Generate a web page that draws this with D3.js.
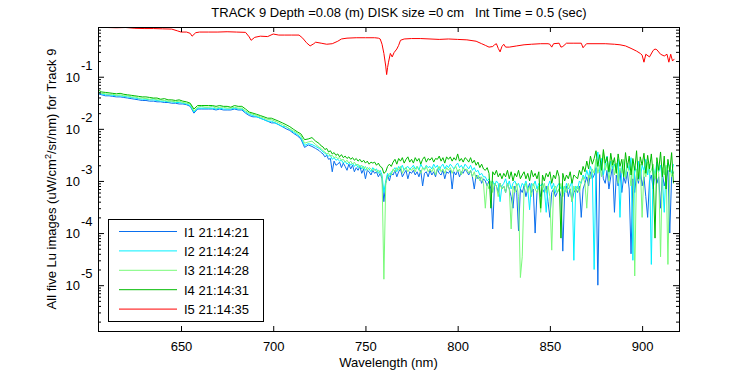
<!DOCTYPE html>
<html>
<head>
<meta charset="utf-8">
<script src="https://cdn.jsdelivr.net/npm/d3@7"></script>
<style>
    body { margin: 0; background: #fff; }
    text { font-family: "Liberation Sans", Arial, sans-serif; font-size: 13px; fill: #000; }
</style>
</head>
<body>
<div id="chart"></div>
<script>
const width = 750,
    height = 375,
    margin = { top: 27, right: 71, bottom: 44, left: 98 };

// wavelength grid (nm) shared by images I1..I4: 2 nm steps up to 723, then 1 nm
const wavelength = d3.range(605, 725, 2).concat(d3.range(725, 918, 1));

// I1 21:14:21
const luI1 = [
    .047, .045, .043, .043, .042, .041, .041, .040, .039, .038,
    .037, .036, .035, .035, .034, .034, .033, .033, .032, .032,
    .031, .031, .030, .030, .029, .027, .020, .024, .024, .024,
    .024, .024, .023, .024, .023, .023, .023, .024, .023, .023,
    .020, .018, .017, .017, .016, .015, .014, .013, .013, .012,
    .011, .010, .0093, .0082, .0074, .0064, .0044, .0049, .0046, .0042,
    // 725..917 nm, 1 nm steps
    38e-4, 35e-4, 33e-4, 29e-4, 31e-4, 26e-4, 27e-4, 15e-4, 24e-4, 20e-4,
    21e-4, 23e-4, 18e-4, 22e-4, 19e-4, 16e-4, 21e-4, 17e-4, 20e-4, 15e-4,
    18e-4, 16e-4, 19e-4, 14e-4, 17e-4, 11e-4, 16e-4, 15e-4, 13e-4, 16e-4,
    14e-4, 15e-4, 12e-4, 14e-4, 11e-4, 4e-4, 9e-4, 13e-4, 10e-4, 14e-4,
    13e-4, 16e-4, 12e-4, 15e-4, 17e-4, 12e-4, 14e-4, 16e-4, 11e-4, 15e-4,
    14e-4, 16e-4, 13e-4, 15e-4, 12e-4, 16e-4, 8e-4, 14e-4, 15e-4, 12e-4,
    16e-4, 13e-4, 15e-4, 12e-4, 17e-4, 14e-4, 13e-4, 16e-4, 11e-4, 15e-4,
    14e-4, 16e-4, 7e-4, 15e-4, 13e-4, 16e-4, 12e-4, 15e-4, 14e-4, 17e-4,
    15e-4, 13e-4, 16e-4, 12e-4, 7e-4, 13e-4, 11e-4, 12e-4, 9e-4, 11e-4,
    10e-4, 8e-4, 10e-4, 7e-4, 1.2e-4, 9e-4, 8e-4, 6e-4, 9e-4, 7e-4,
    8e-4, 6e-4, 9e-4, 7e-4, 5e-4, 3e-4, 8e-4, 6e-4, 1.1e-4, 7e-4,
    6e-4, 8e-4, 5e-4, 7e-4, 9e-4, 6e-4, 7e-4, 1.0e-4, 6e-4, 8e-4,
    5e-4, 7e-4, 6e-4, 8e-4, 4e-4, 2e-4, 6e-4, 7e-4, 5e-4, 6e-4,
    7e-4, 5e-4, 4.5e-5, 6e-4, 8e-4, 5e-4, 7e-4, 4e-4, 6e-4, 7e-4,
    6e-4, 8e-4, 2e-4, 7e-4, 9e-4, 12e-4, 8e-4, 15e-4, 11e-4, 13e-4,
    18e-4, 1.0e-5, 14e-4, 24e-4, 11e-4, 9e-4, 16e-4, 7e-4, 12e-4, 19e-4,
    2.5e-4, 13e-4, 8e-4, 16e-4, 6e-4, 12e-4, 9e-4, 15e-4, 7e-4, 4e-5,
    11e-4, 6e-4, 14e-4, 9e-4, 17e-4, 8e-4, 12e-4, 5e-4, 2e-4, 10e-4,
    13e-4, 7e-4, 15e-4, 9e-4, 12e-4, 3e-4, 14e-4, 8e-4, 11e-4, 16e-4,
    1.0e-4, 12e-4, 15e-4
];

// I2 21:14:24
const luI2 = [
    .049, .047, .045, .045, .044, .043, .043, .042, .041, .040,
    .039, .038, .037, .037, .036, .036, .035, .034, .034, .033,
    .033, .032, .032, .031, .030, .028, .021, .025, .025, .025,
    .025, .025, .024, .025, .024, .024, .024, .025, .024, .024,
    .021, .019, .018, .017, .016, .015, .014, .014, .013, .012,
    .011, .011, .0097, .0086, .0078, .0068, .0048, .0052, .0050, .0046,
    42e-4, 39e-4, 36e-4, 34e-4, 32e-4, 30e-4, 31e-4, 26e-4, 28e-4, 25e-4,
    26e-4, 24e-4, 25e-4, 22e-4, 24e-4, 21e-4, 23e-4, 20e-4, 22e-4, 19e-4,
    21e-4, 18e-4, 20e-4, 17e-4, 19e-4, 16e-4, 18e-4, 17e-4, 15e-4, 18e-4,
    16e-4, 17e-4, 14e-4, 16e-4, 13e-4, 6e-4, 10e-4, 14e-4, 12e-4, 15e-4,
    16e-4, 18e-4, 15e-4, 19e-4, 17e-4, 20e-4, 16e-4, 18e-4, 19e-4, 17e-4,
    18e-4, 20e-4, 17e-4, 19e-4, 16e-4, 21e-4, 18e-4, 17e-4, 20e-4, 18e-4,
    19e-4, 17e-4, 21e-4, 18e-4, 20e-4, 16e-4, 19e-4, 21e-4, 17e-4, 20e-4,
    18e-4, 21e-4, 19e-4, 17e-4, 20e-4, 22e-4, 18e-4, 20e-4, 17e-4, 21e-4,
    19e-4, 17e-4, 20e-4, 16e-4, 18e-4, 15e-4, 16e-4, 13e-4, 14e-4, 12e-4,
    12e-4, 10e-4, 11e-4, 9e-4, 10e-4, 8e-4, 10e-4, 9e-4, 4e-4, 8e-4,
    9e-4, 11e-4, 8e-4, 10e-4, 7e-4, 9e-4, 10e-4, 8e-4, 9e-4, 7e-4,
    9e-4, 8e-4, 10e-4, 7e-4, 2.8e-4, 9e-4, 8e-4, 10e-4, 7e-4, 9e-4,
    8e-4, 9e-4, 7e-4, 2.5e-4, 8e-4, 10e-4, 7e-4, 9e-4, 6e-4, 8e-4,
    9e-4, 7e-4, 8e-4, 6e-4, 9e-4, 7e-4, 8e-4, 10e-4, 3e-5, 8e-4,
    7e-4, 10e-4, 9e-4, 13e-4, 11e-4, 16e-4, 12e-4, 19e-4, 14e-4, 2e-5,
    22e-4, 36e-4, 15e-4, 27e-4, 13e-4, 20e-4, 30e-4, 14e-4, 24e-4, 17e-4,
    21e-4, 15e-4, 26e-4, 2e-4, 18e-4, 25e-4, 12e-4, 22e-4, 16e-4, 28e-4,
    3e-5, 19e-4, 14e-4, 24e-4, 11e-4, 20e-4, 16e-4, 26e-4, 13e-4, 21e-4,
    2.5e-5, 18e-4, 13e-4, 23e-4, 15e-4, 20e-4, 11e-4, 2.5e-4, 17e-4, 22e-4,
    19e-4, 14e-4, 21e-4
];

// I3 21:14:28
const luI3 = [
    .051, .048, .047, .046, .046, .044, .045, .043, .043, .041,
    .041, .039, .039, .038, .037, .038, .036, .036, .035, .034,
    .034, .033, .034, .032, .031, .030, .022, .026, .027, .026,
    .026, .027, .025, .026, .026, .025, .025, .026, .025, .025,
    .022, .020, .019, .018, .017, .016, .015, .015, .014, .013,
    .012, .011, .010, .0091, .0083, .0074, .0053, .0056, .0058, .0050,
    44e-4, 42e-4, 38e-4, 36e-4, 33e-4, 34e-4, 30e-4, 31e-4, 28e-4, 29e-4,
    27e-4, 28e-4, 25e-4, 26e-4, 23e-4, 25e-4, 22e-4, 24e-4, 21e-4, 23e-4,
    20e-4, 21e-4, 18e-4, 20e-4, 17e-4, 19e-4, 16e-4, 18e-4, 17e-4, 16e-4,
    17e-4, 15e-4, 16e-4, 14e-4, 12e-4, 1.3e-5, 9e-4, 12e-4, 14e-4, 13e-4,
    17e-4, 15e-4, 18e-4, 16e-4, 19e-4, 14e-4, 17e-4, 18e-4, 15e-4, 17e-4,
    16e-4, 18e-4, 15e-4, 19e-4, 17e-4, 14e-4, 18e-4, 16e-4, 19e-4, 15e-4,
    17e-4, 15e-4, 18e-4, 13e-4, 17e-4, 19e-4, 15e-4, 17e-4, 14e-4, 18e-4,
    16e-4, 18e-4, 14e-4, 17e-4, 19e-4, 15e-4, 17e-4, 13e-4, 18e-4, 16e-4,
    17e-4, 14e-4, 16e-4, 12e-4, 15e-4, 11e-4, 13e-4, 10e-4, 12e-4, 9e-4,
    3e-4, 9e-4, 7e-4, 10e-4, 6e-4, 9e-4, 8e-4, 5e-4, 9e-4, 7e-4,
    8e-4, 6e-4, 9e-4, 7e-4, 1.2e-4, 8e-4, 6e-4, 9e-4, 5e-4, 1.4e-5,
    3.5e-5, 7e-4, 9e-4, 6e-4, 8e-4, 5e-4, 9e-4, 7e-4, 6e-4, 8e-4,
    2.5e-4, 7e-4, 9e-4, 6e-4, 8e-4, 5e-4, 4.7e-5, 7e-4, 8e-4, 6e-4,
    7e-4, 9e-4, 5e-4, 8e-4, 6e-4, 9e-4, 7e-4, 4e-4, 8e-4, 6e-4,
    8e-4, 6e-4, 10e-4, 12e-4, 9e-4, 3e-4, 13e-4, 11e-4, 17e-4, 14e-4,
    26e-4, 14e-4, 20e-4, 12e-4, 35e-4, 16e-4, 22e-4, 10e-4, 18e-4, 25e-4,
    13e-4, 22e-4, 9e-4, 18e-4, 14e-4, 26e-4, 11e-4, 20e-4, 15e-4, 8e-4,
    25e-4, 1.5e-5, 17e-4, 10e-4, 21e-4, 2e-4, 16e-4, 12e-4, 23e-4, 14e-4,
    16e-4, 21e-4, 11e-4, 19e-4, 14e-4, 3.5e-5, 18e-4, 13e-4, 20e-4, 2.5e-5,
    19e-4, 12e-4, 15e-4
];

// I4 21:14:31
const luI4 = [
    .056, .051, .050, .049, .048, .047, .048, .046, .045, .044,
    .043, .042, .041, .041, .040, .039, .039, .037, .038, .036,
    .036, .035, .036, .034, .033, .031, .024, .028, .028, .028,
    .028, .028, .027, .028, .027, .027, .026, .028, .027, .027,
    .024, .021, .020, .019, .018, .017, .016, .016, .015, .014,
    .013, .012, .011, .0098, .0088, .0080, .0062, .0064, .0068, .0058,
    52e-4, 47e-4, 45e-4, 40e-4, 42e-4, 36e-4, 38e-4, 33e-4, 35e-4, 31e-4,
    33e-4, 29e-4, 32e-4, 28e-4, 30e-4, 27e-4, 29e-4, 26e-4, 28e-4, 25e-4,
    27e-4, 24e-4, 26e-4, 23e-4, 25e-4, 22e-4, 24e-4, 21e-4, 23e-4, 22e-4,
    23e-4, 20e-4, 22e-4, 19e-4, 18e-4, 14e-4, 15e-4, 19e-4, 21e-4, 19e-4,
    23e-4, 26e-4, 21e-4, 27e-4, 24e-4, 28e-4, 22e-4, 26e-4, 29e-4, 23e-4,
    26e-4, 22e-4, 28e-4, 24e-4, 27e-4, 21e-4, 26e-4, 29e-4, 23e-4, 27e-4,
    25e-4, 28e-4, 23e-4, 27e-4, 26e-4, 30e-4, 24e-4, 28e-4, 22e-4, 29e-4,
    26e-4, 29e-4, 24e-4, 28e-4, 25e-4, 33e-4, 24e-4, 27e-4, 23e-4, 28e-4,
    26e-4, 23e-4, 28e-4, 22e-4, 25e-4, 20e-4, 23e-4, 18e-4, 21e-4, 17e-4,
    16e-4, 18e-4, 14e-4, 3e-4, 15e-4, 13e-4, 16e-4, 12e-4, 14e-4, 11e-4,
    14e-4, 12e-4, 16e-4, 11e-4, 15e-4, 10e-4, 14e-4, 12e-4, 16e-4, 11e-4,
    13e-4, 15e-4, 11e-4, 14e-4, 10e-4, 16e-4, 12e-4, 14e-4, 11e-4, 15e-4,
    3e-4, 13e-4, 10e-4, 14e-4, 12e-4, 15e-4, 9e-4, 13e-4, 11e-4, 16e-4,
    12e-4, 8e-5, 14e-4, 10e-4, 13e-4, 11e-4, 15e-4, 9e-4, 13e-4, 12e-4,
    11e-4, 16e-4, 13e-4, 19e-4, 15e-4, 24e-4, 17e-4, 30e-4, 21e-4, 27e-4,
    38e-4, 19e-4, 32e-4, 16e-4, 40e-4, 22e-4, 29e-4, 15e-4, 34e-4, 20e-4,
    28e-4, 14e-4, 33e-4, 19e-4, 26e-4, 12e-4, 35e-4, 18e-4, 30e-4, 13e-4,
    27e-4, 16e-4, 38e-4, 11e-4, 29e-4, 20e-4, 34e-4, 14e-4, 31e-4, 17e-4,
    33e-4, 13e-4, 8e-5, 28e-4, 16e-4, 36e-4, 12e-4, 30e-4, 7e-4, 26e-4,
    15e-4, 35e-4, 9e-4
];

// I5 21:14:35 has its own (irregular) wavelength samples
const wavelengthI5 = [
    605, 610, 615, 620, 625, 630, 635, 640, 645, 648,
    650, 653, 655, 656, 658, 660, 665, 670, 675, 680,
    685, 687, 688, 690, 693, 697, 700, 703, 706, 710,
    714, 716, 718, 720, 722, 723, 726, 729, 732, 735,
    737, 740, 745, 750, 755, 757, 758, 759, 760, 761,
    761.5, 762, 762.5, 763.5, 764.5, 765.5, 767, 768, 769, 771,
    775, 780, 785, 790, 795, 800, 805, 810, 813, 815,
    817, 819, 820, 821, 822, 823, 824, 825, 826, 828,
    832, 836, 840, 845, 849, 850, 851, 852, 855, 856,
    857, 859, 863, 867, 868, 869, 870, 875, 880, 885,
    888, 891, 894, 897, 899, 900, 901, 902, 904, 906,
    907, 908, 910, 912, 913.5, 914.5, 915.5, 916.5, 917.5
];
const luI5 = [
    .88, .88, .87, .88, .85, .84, .84, .83, .82, .76,
    .72, .72, .68, .60, .70, .72, .72, .72, .73, .72,
    .71, .58, .50, .57, .60, .59, .66, .63, .63, .63,
    .63, .55, .45, .39, .43, .46, .44, .42, .43, .48,
    .53, .55, .56, .56, .56, .55, .53, .42, .28, .16,
    .11, .15, .19, .28, .24, .29, .34, .40, .50, .53,
    .54, .54, .53, .52, .53, .52, .51, .48, .43, .40,
    .37, .38, .41, .43, .35, .30, .38, .42, .37, .37,
    .39, .41, .42, .43, .43, .42, .37, .43, .44, .37,
    .38, .44, .44, .44, .36, .40, .43, .43, .43, .42,
    .41, .39, .35, .31, .28, .26, .19, .27, .24, .32,
    .34, .33, .27, .25, .27, .19, .27, .20, .22
];

const seriesNames = ["I1 21:14:21", "I2 21:14:24", "I3 21:14:28", "I4 21:14:31", "I5 21:14:35"];
const seriesColors = ["#0a6fee", "#00f0ff", "#78fa78", "#00bb00", "#ff0000"];
const xTicks = [650, 700, 750, 800, 850, 900];
const yMajor = [1e-1, 1e-2, 1e-3, 1e-4, 1e-5];

const series = [
    { name: seriesNames[0], wl: wavelength, lu: luI1 },
    { name: seriesNames[1], wl: wavelength, lu: luI2 },
    { name: seriesNames[2], wl: wavelength, lu: luI3 },
    { name: seriesNames[3], wl: wavelength, lu: luI4 },
    { name: seriesNames[4], wl: wavelengthI5, lu: luI5 }
].map((s, i) => ({
    name: s.name,
    color: seriesColors[i],
    points: s.lu.map((v, j) => ({ wl: s.wl[j], lu: v })).filter(d => d.wl !== undefined)
}));

const x = d3.scaleLinear()
    .domain([605, 920])
    .range([margin.left, width - margin.right]);
const y = d3.scaleLog()
    .domain([1.32e-6, 0.9])
    .range([height - margin.bottom, margin.top]);

// minor ticks 2..9 per decade
const yMinor = [];
for (let e = -6; e <= -1; e++) {
    for (let k = 2; k <= 9; k++) {
        const v = k * Math.pow(10, e);
        if (v >= y.domain()[0] && v <= y.domain()[1]) yMinor.push(v);
    }
}

const svg = d3.select("#chart")
    .append("svg")
    .attr("width", width)
    .attr("height", height);

svg.append("rect")
    .attr("width", width)
    .attr("height", height)
    .attr("fill", "#fff");

// data lines
const line = d3.line()
    .x(d => x(d.wl))
    .y(d => y(d.lu));

svg.append("clipPath")
    .attr("id", "plot-clip")
    .append("rect")
    .attr("x", margin.left)
    .attr("y", margin.top)
    .attr("width", width - margin.left - margin.right)
    .attr("height", height - margin.top - margin.bottom);

svg.append("g")
    .attr("clip-path", "url(#plot-clip)")
    .selectAll("path.line")
    .data(series)
    .join("path")
    .attr("class", "line")
    .attr("fill", "none")
    .attr("stroke", d => d.color)
    .attr("stroke-width", 1)
    .attr("d", d => line(d.points));

// axes, ticks inward on all four sides
const bottom = height - margin.bottom,
    right = width - margin.right;

svg.append("g")
    .attr("transform", `translate(0, ${bottom})`)
    .call(d3.axisBottom(x).tickValues(xTicks).tickSize(-5).tickSizeOuter(0).tickPadding(11).tickFormat(d3.format("d")))
    .call(g => g.select(".domain").remove())
    .call(g => g.selectAll("text").attr("font-size", 13).attr("font-family", null));

svg.append("g")
    .attr("transform", `translate(0, ${margin.top})`)
    .call(d3.axisTop(x).tickValues(xTicks).tickSize(-5).tickSizeOuter(0).tickFormat(""))
    .call(g => g.select(".domain").remove());

[[d3.axisLeft, margin.left], [d3.axisRight, right]].forEach(([axis, pos]) => {
    svg.append("g")
        .attr("transform", `translate(${pos}, 0)`)
        .call(axis(y).tickValues(yMajor).tickSize(-6).tickSizeOuter(0).tickFormat(""))
        .call(g => g.select(".domain").remove());
    svg.append("g")
        .attr("transform", `translate(${pos}, 0)`)
        .call(axis(y).tickValues(yMinor).tickSize(-3).tickSizeOuter(0).tickFormat(""))
        .call(g => g.select(".domain").remove());
});

svg.append("rect")
    .attr("x", margin.left + 0.5)
    .attr("y", margin.top + 0.5)
    .attr("width", right - margin.left)
    .attr("height", bottom - margin.top)
    .attr("fill", "none")
    .attr("stroke", "#000");

// y tick labels as 10 with exponent
const yLabels = svg.append("g");
yLabels.selectAll("text.base")
    .data(yMajor)
    .join("text")
    .attr("class", "base")
    .attr("x", 80)
    .attr("y", d => y(d) + 5)
    .attr("text-anchor", "end")
    .text("10");
yLabels.selectAll("text.exp")
    .data(yMajor)
    .join("text")
    .attr("class", "exp")
    .attr("x", 81)
    .attr("y", d => y(d) - 7)
    .text(d => String(Math.round(Math.log10(d))));

// titles
svg.append("text")
    .attr("x", 399)
    .attr("y", 17)
    .attr("text-anchor", "middle")
    .style("white-space", "pre")
    .text("TRACK 9 Depth =0.08 (m) DISK size =0 cm   Int Time = 0.5 (sec)");

svg.append("text")
    .attr("x", (margin.left + right) / 2)
    .attr("y", 367)
    .attr("text-anchor", "middle")
    .text("Wavelength (nm)");

const yTitle = svg.append("text")
    .attr("transform", `translate(56, ${(margin.top + bottom) / 2}) rotate(-90)`)
    .attr("text-anchor", "middle");
yTitle.append("tspan").text("All five Lu images (uW/cm");
yTitle.append("tspan").attr("dy", -5).attr("font-size", 9).text("2");
yTitle.append("tspan").attr("dy", 5).text("/sr/nm) for Track 9");

// legend
const legend = svg.append("g")
    .attr("transform", "translate(108, 219)");

legend.append("rect")
    .attr("x", 0.5)
    .attr("y", 0.5)
    .attr("width", 155)
    .attr("height", 102)
    .attr("fill", "#fff")
    .attr("stroke", "#000");

const items = legend.selectAll("g.item")
    .data(series)
    .join("g")
    .attr("class", "item")
    .attr("transform", (d, i) => `translate(0, ${12.5 + i * 19.4})`);

items.append("line")
    .attr("x1", 11)
    .attr("x2", 69)
    .attr("y1", 0)
    .attr("y2", 0)
    .attr("stroke", d => d.color)
    .attr("stroke-width", 1);

items.append("text")
    .attr("x", 76)
    .attr("y", 5)
    .text(d => d.name);
</script>
</body>
</html>
